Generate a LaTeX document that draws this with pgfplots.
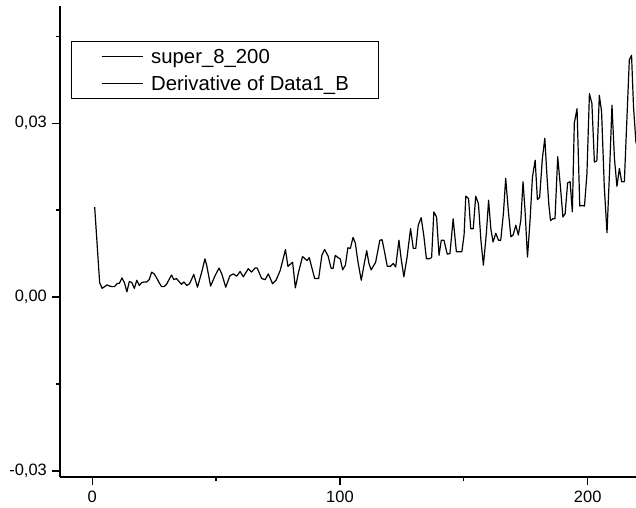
\documentclass[border=0pt]{standalone}
\usepackage{pgfplots}
\pgfplotsset{compat=1.18}
\usepackage{fontspec}
\setmainfont{Liberation Sans}
\pgfplotstableread{
x y
1 0.0155
3 0.0025
4 0.0015
5 0.0018
6 0.0021
7 0.0019
8 0.0018
9 0.0018
10 0.0023
11 0.0024
12 0.0033
13 0.0025
14 0.0009
15 0.0027
16 0.0025
17 0.0015
18 0.0029
19 0.0020
20 0.0025
21 0.0026
22 0.0026
23 0.0030
24 0.0043
25 0.0040
26 0.0033
27 0.0025
28 0.0018
29 0.0018
30 0.0022
31 0.0030
32 0.0038
33 0.0030
34 0.0032
35 0.0027
36 0.0022
37 0.0026
38.2 0.0020
39.3 0.0023
41 0.0039
42.5 0.0017
44.2 0.0043
45.5 0.0066
46.2 0.0055
47.8 0.0019
49.6 0.0037
51.2 0.0050
52.3 0.0040
53.9 0.0017
55.6 0.0037
57 0.0040
58.3 0.0036
59.7 0.0044
61 0.0035
63 0.0049
64.3 0.0043
65.7 0.0050
66.6 0.0050
68.4 0.0032
69.8 0.0030
71.1 0.0040
72.8 0.0023
74.2 0.0029
75.9 0.0046
78 0.0082
79 0.0053
80.9 0.0060
82 0.0016
83.3 0.0043
84.9 0.0070
86.7 0.0063
87.6 0.0068
89.8 0.0032
91.4 0.0032
92.7 0.0072
93.8 0.0082
95.2 0.0071
96.4 0.0050
97.2 0.0049
98.1 0.0072
99.2 0.0068
100.1 0.0066
101.1 0.0047
102.2 0.0055
103.2 0.0085
104.2 0.0084
105.3 0.0103
106.2 0.0093
107.3 0.0060
108.6 0.0029
110 0.0062
110.8 0.0080
111.7 0.0058
112.6 0.0047
114.4 0.0060
116.1 0.0098
117 0.0099
118 0.0078
119.1 0.0053
120.4 0.0053
121.5 0.0058
122.5 0.0052
123.8 0.0098
124.7 0.0066
125.8 0.0035
127.1 0.0069
128.5 0.0118
129.6 0.0084
130.6 0.0084
131.6 0.0124
132.8 0.0137
133.9 0.0104
134.9 0.0066
136 0.0066
137 0.0068
137.9 0.0147
139 0.0138
140 0.0072
140.9 0.0098
142 0.0098
143.3 0.0074
144.4 0.0075
145.7 0.0135
147 0.0078
148.1 0.0078
149.2 0.0078
150.1 0.0107
150.8 0.0174
151.9 0.0170
152.8 0.0118
153.8 0.0118
154.8 0.0174
155.9 0.0161
156.9 0.0098
157.9 0.0055
159.1 0.0110
160 0.0167
160.9 0.0118
161.8 0.0095
162.9 0.0110
164 0.0098
164.9 0.0098
166 0.0145
166.9 0.0205
168 0.0147
169 0.0104
169.9 0.0107
171 0.0124
172 0.0107
173 0.0132
173.9 0.0199
174.7 0.0150
175.7 0.0069
176.7 0.0130
177.7 0.0207
178.8 0.0236
179.7 0.0168
180.6 0.0172
181.7 0.0239
182.7 0.0274
183.5 0.0213
184.3 0.0160
185 0.0132
185.9 0.0135
186.8 0.0135
187.9 0.0242
189 0.0190
190 0.0138
190.9 0.0144
191.9 0.0197
192.9 0.0199
193.8 0.0147
194.6 0.0300
195.7 0.0325
196.8 0.0157
197.7 0.0158
198.7 0.0157
199.7 0.0213
200.7 0.0351
201.7 0.0334
202.7 0.0233
203.7 0.0235
204.7 0.0348
205.6 0.0320
206.7 0.0190
207.8 0.0111
208.9 0.0225
209.8 0.0331
210.8 0.0239
211.8 0.0191
212.8 0.0222
213.7 0.0199
214.8 0.0199
215.7 0.0294
216.8 0.0409
217.7 0.0417
218.5 0.0328
219.5 0.0265
}\deriv
\begin{document}
\begin{tikzpicture}
\begin{axis}[
  scale only axis,
  width=576bp, height=471bp,
  xmin=-13, xmax=219.5,
  ymin=-0.03104, ymax=0.05021,
  axis lines=left,
  axis line style={-, line width=1.6bp},
  tick align=outside,
  major tick length=8bp,
  minor tick length=4bp,
  tick style={line width=1.3bp, black},
  xtick={0,100,200},
  xticklabels={0,100,200},
  minor xtick={50,150},
  ytick={-0.03,0,0.03},
  yticklabels={{-0,03},{0,00},{0,03}},
  minor ytick={-0.015,0.015,0.045},
  ticklabel style={font=\fontsize{16.5}{18}\selectfont, inner sep=0pt},
  xticklabel style={yshift=-6bp},
  yticklabel style={xshift=-5bp},
  legend image code/.code={\draw[#1] (0bp,0bp) -- (41bp,0bp); \path (0bp,-3bp);},
  legend style={
    at={(0.0191,0.9257)}, anchor=north west,
    draw=black, line width=1bp,
    font=\fontsize{20.4}{22}\selectfont,
    inner xsep=29.5bp, inner ysep=7.3bp,
    row sep=10.7bp, column sep=8bp,
    nodes={inner sep=0pt, text height=15bp, text depth=1bp},
    cells={anchor=west},
  },
]
\addlegendimage{black, line width=0.9bp}
\addlegendentry{super\_8\_200}
\addplot[black, line width=1.2bp, line join=round] table[x=x, y=y] {\deriv};
\addlegendentry{Derivative of Data1\_B}
\end{axis}
\pgfresetboundingbox
\path ([shift={(-60bp,-31bp)}]current axis.south west) rectangle ([shift={(576bp,477bp)}]current axis.south west);
\end{tikzpicture}
\end{document}
